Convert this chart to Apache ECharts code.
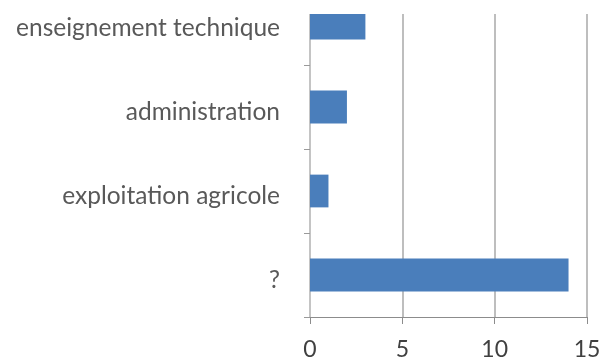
<!DOCTYPE html>
<html>
<head>
<meta charset="utf-8">
<script src="https://cdn.jsdelivr.net/npm/echarts@6/dist/echarts.min.js"></script>
<style>
html,body{margin:0;padding:0;background:#fff;}
#c{width:613px;height:361px;}
</style>
</head>
<body>
<div id="c"></div>
<script>
var categories = ['?', 'exploitation agricole', 'administration', 'enseignement technique'];
var values = [14, 1, 2, 3];
var xTicks = [0, 5, 10, 15];

var chart = echarts.init(document.getElementById('c'), null, {renderer: 'canvas'});
chart.setOption({
  animation: false,
  backgroundColor: '#ffffff',
  grid: {left: 310, right: 26, top: -19, bottom: 44, containLabel: false, outerBoundsMode: 'none'},
  xAxis: {
    type: 'value',
    min: xTicks[0],
    max: xTicks[xTicks.length - 1],
    interval: xTicks[1] - xTicks[0],
    axisLine: {show: true, lineStyle: {color: '#8c8c8c', width: 1}},
    axisTick: {show: true, length: 7, lineStyle: {color: '#8c8c8c'}},
    splitLine: {show: true, lineStyle: {color: '#a8a8a8', width: 1.5}},
    axisLabel: {color: '#404040', fontFamily: 'Lato', fontSize: 23, margin: 21}
  },
  yAxis: {
    type: 'category',
    data: categories,
    axisLine: {show: true, lineStyle: {color: '#c4c4c4', width: 2}},
    axisTick: {show: true, length: 6, lineStyle: {color: '#9a9a9a'}},
    axisLabel: {
      margin: 30,
      formatter: function (v) { return '{a|' + v + '}'; },
      rich: {a: {color: '#595959', fontFamily: 'Lato', fontSize: 24.5, padding: [10, 0, 0, 0]}}
    }
  },
  series: [{
    type: 'bar',
    data: values,
    barCategoryGap: '61%',
    itemStyle: {color: '#4a7ebb'}
  }],
  graphic: [{
    type: 'rect',
    shape: {x: 295, y: 0, width: 318, height: 14},
    style: {fill: '#ffffff'},
    z: 100
  }]
});
</script>
</body>
</html>
